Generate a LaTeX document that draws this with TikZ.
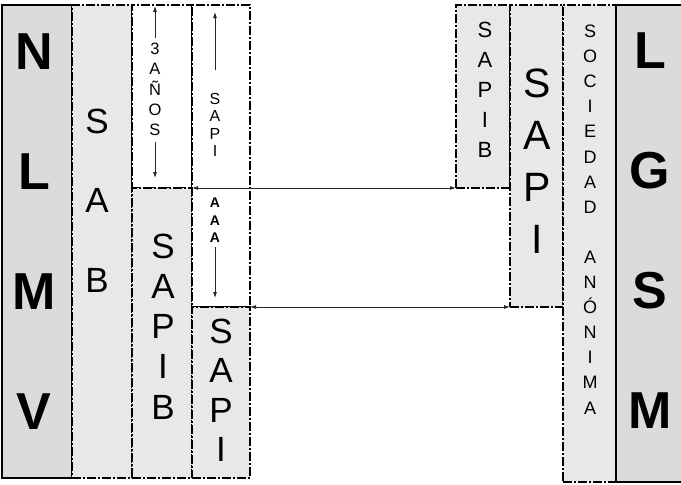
\documentclass[tikz,border=0pt]{standalone}
\usepackage{fontspec}
\setmainfont{Liberation Sans}
\usetikzlibrary{arrows.meta}

\tikzset{
  col/.style={draw=black, line width=1.5pt, dash pattern=on 9pt off 2pt on 2pt off 2pt,
    inner sep=0pt, outer sep=0pt, anchor=north west, fill=gray!18},
  lawcol/.style={col, fill=gray!28, solid},
  blankcol/.style={col, fill=white},
  letters/.style={align=center, inner sep=0pt},
  pointer/.style={draw=gray!30!black, line width=0.8pt, -{Latex[length=6pt,width=4pt]}},
  span/.style={draw=gray!30!black, line width=0.8pt, {Latex[length=6pt,width=4pt]}-{Latex[length=6pt,width=4pt]}},
}
\newcommand{\fs}[2]{\fontsize{#1}{#2}\selectfont}

\begin{document}
\begin{tikzpicture}[x=1pt,y=-1pt]
  \useasboundingbox (0,0) rectangle (681,485);

  % left block
  \node[lawcol, minimum width=70pt, minimum height=473pt] (nlmv) at (2,5) {};
  \node[col, minimum width=60pt, minimum height=473pt] (sab) at (72,5) {};
  \node[blankcol, minimum width=60pt, minimum height=183pt] (tresanos) at (132,5) {};
  \node[col, minimum width=60pt, minimum height=290pt] (sapibl) at (132,188) {};
  \node[blankcol, minimum width=58pt, minimum height=302pt] (sapitop) at (192,5) {};
  \node[col, minimum width=58pt, minimum height=171pt] (sapil) at (192,307) {};

  % right block
  \node[col, minimum width=54pt, minimum height=183pt] (sapibr) at (456,5) {};
  \node[col, minimum width=53pt, minimum height=302pt] (sapir) at (510,5) {};
  \node[col, minimum width=53pt, minimum height=477pt] (sociedad) at (563,5) {};
  \node[lawcol, minimum width=70pt, minimum height=477pt] (lgsm) at (616,5) {};

  % texts
  \node[letters, font={\fs{52}{120}\bfseries}] (tnlmv) at (34,231.5) {N\\L\\M\\V};
  \node[letters, font={\fs{35}{79.5}}] (tsab) at (97,200.5) {S\\A\\B};
  \node[letters, font={\fs{16.5}{20.3}}] (ttres) at (155,89.5) {3\\A\\Ñ\\O\\S};
  \node[letters, font={\fs{35}{40.25}}] (tsapibl) at (163,326.5) {S\\A\\P\\I\\B};
  \node[letters, font={\fs{16}{17.3}}] (tsapis) at (215,125) {S\\A\\P\\I};
  \node[letters, font={\fs{14}{17.5}\bfseries}] (taaa) at (215,220.5) {A\\A\\A};
  \node[letters, font={\fs{35}{39.5}}] (tsapil) at (221,390.5) {S\\A\\P\\I};
  \node[letters, font={\fs{22}{30}}] (tsapibr) at (485,90) {S\\A\\P\\I\\B};
  \node[letters, font={\fs{41}{52}}] (tsapir) at (537,161) {S\\A\\P\\I};
  \node[letters, font={\fs{18}{25.1}}] (tsoc) at (590,219.5) {S\\O\\C\\I\\E\\D\\A\\D\\[25.1pt]A\\N\\Ó\\N\\I\\M\\A};
  \node[letters, font={\fs{52}{120}\bfseries}] (tlgsm) at (650,230.5) {L\\G\\S\\M};

  % arrows
  \draw[pointer, shorten <=5pt, shorten >=1pt] (ttres.north) -- (ttres.north |- tresanos.north);
  \draw[pointer, shorten <=6pt, shorten >=10pt] (ttres.south) -- (ttres.south |- tresanos.south);
  \draw[pointer, shorten <=23pt, shorten >=7pt] (tsapis.north) -- (tsapis.north |- sapitop.north);
  \draw[pointer, shorten <=4pt, shorten >=9pt] (taaa.south) -- (taaa.south |- sapitop.south);
  \draw[span] (tresanos.south east) -- (sapibr.south west);
  \draw[span] (sapitop.south east) -- (sapir.south west);
\end{tikzpicture}
\end{document}
